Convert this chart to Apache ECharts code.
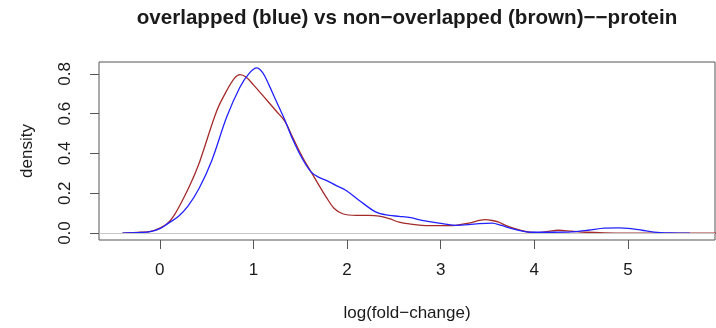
<!DOCTYPE html>
<html>
<head>
<meta charset="utf-8">
<script src="https://cdn.jsdelivr.net/npm/echarts@6/dist/echarts.min.js"></script>
<style>
html,body{margin:0;padding:0;background:#fff;}
#chart{width:716px;height:328px;}
</style>
</head>
<body>
<div id="chart"></div>
<script>
// ---- data ----
const titleText = "overlapped (blue) vs non\u2212overlapped (brown)\u2212\u2212protein";
const xLabelText = "log(fold\u2212change)";
const yLabelText = "density";
const xTicks = [0, 1, 2, 3, 4, 5];
const yTicks = [0, 0.2, 0.4, 0.6, 0.8];

const blueX = [-0.40, -0.2, -0.1, 0.0, 0.077, 0.2, 0.3, 0.42, 0.555, 0.714, 0.855, 0.95, 1.033, 1.1, 1.17, 1.227, 1.334, 1.42, 1.52, 1.617, 1.70, 1.777, 1.88, 1.99, 2.13, 2.31, 2.45, 2.556, 2.68, 2.80, 2.98, 3.158, 3.3, 3.406, 3.547, 3.65, 3.76, 3.97, 4.2, 4.40, 4.575, 4.75, 4.9, 5.035, 5.15, 5.28, 5.45, 5.66];
const blueY = [0, 0.003, 0.007, 0.022, 0.045, 0.085, 0.135, 0.225, 0.365, 0.583, 0.733, 0.80, 0.83, 0.805, 0.74, 0.68, 0.57, 0.47, 0.375, 0.306, 0.28, 0.265, 0.24, 0.214, 0.164, 0.105, 0.089, 0.084, 0.077, 0.064, 0.05, 0.039, 0.042, 0.047, 0.050, 0.038, 0.022, 0.004, 0.004, 0.006, 0.014, 0.025, 0.026, 0.022, 0.014, 0.005, 0.001, 0];

const brownX = [-0.40, -0.2, -0.1, 0.0, 0.077, 0.147, 0.253, 0.34, 0.43, 0.608, 0.714, 0.80, 0.855, 0.92, 1.0, 1.139, 1.24, 1.334, 1.42, 1.52, 1.617, 1.70, 1.777, 1.86, 1.953, 2.096, 2.237, 2.343, 2.45, 2.556, 2.68, 2.80, 3.0, 3.158, 3.3, 3.475, 3.55, 3.619, 3.72, 3.83, 3.95, 4.04, 4.15, 4.256, 4.40, 4.55, 4.75, 5.0, 5.5, 6.0];
const brownY = [0, 0.004, 0.008, 0.025, 0.047, 0.085, 0.175, 0.26, 0.365, 0.615, 0.716, 0.78, 0.797, 0.785, 0.745, 0.67, 0.615, 0.563, 0.48, 0.385, 0.306, 0.24, 0.181, 0.125, 0.097, 0.089, 0.089, 0.085, 0.072, 0.055, 0.045, 0.039, 0.037, 0.039, 0.05, 0.067, 0.063, 0.055, 0.033, 0.017, 0.004, 0.002, 0.008, 0.014, 0.009, 0.004, 0.001, 0, 0, 0];

const FONT = '"Liberation Sans", Arial, Helvetica, sans-serif';
const TXT = '#1a1a1a';
const AX = '#555555';

const chart = echarts.init(document.getElementById('chart'), null, {renderer: 'canvas'});
const pairs = (xs, ys) => xs.map((x, i) => [x, ys[i]]);

chart.setOption({
  animation: false,
  backgroundColor: '#ffffff',
  grid: {
    left: 99, right: 1, top: 62, bottom: 88,
    show: true, borderColor: AX, borderWidth: 1,
    containLabel: false, outerBoundsMode: 'none'
  },
  xAxis: {
    type: 'value', min: -0.65, max: 5.93,
    axisLine: {show: false, onZero: false},
    splitLine: {show: false},
    axisTick: {show: true, customValues: xTicks, length: 9, lineStyle: {color: AX, width: 1}},
    axisLabel: {customValues: xTicks, margin: 22, fontSize: 17, fontFamily: FONT, color: TXT,
      formatter: v => String(v)}
  },
  yAxis: {
    type: 'value', min: -0.035, max: 0.86,
    axisLine: {show: false, onZero: false},
    splitLine: {show: false},
    axisTick: {show: true, customValues: yTicks, length: 9, lineStyle: {color: AX, width: 1}},
    axisLabel: {customValues: yTicks, margin: 25, rotate: 90, fontSize: 17, fontFamily: FONT, color: TXT,
      formatter: v => Number(v).toFixed(1)}
  },
  series: [
    {
      name: 'non-overlapped', type: 'line', data: pairs(brownX, brownY),
      showSymbol: false, symbol: 'none', smooth: 0.35,
      lineStyle: {color: '#A52A2A', width: 1.3},
      markLine: {
        silent: true, symbol: ['none', 'none'], label: {show: false},
        lineStyle: {color: '#c8c8c8', type: 'solid', width: 1},
        data: [{yAxis: 0}]
      }
    },
    {
      name: 'overlapped', type: 'line', data: pairs(blueX, blueY),
      showSymbol: false, symbol: 'none', smooth: 0.35,
      lineStyle: {color: '#2222ff', width: 1.3}
    }
  ],
  graphic: [
    {type: 'text', x: 407, y: 18, style: {text: titleText, font: 'bold 20.6px ' + FONT, fill: TXT, align: 'center', verticalAlign: 'middle'}},
    {type: 'text', x: 407, y: 313, style: {text: xLabelText, font: '17px ' + FONT, fill: TXT, align: 'center', verticalAlign: 'middle'}},
    {type: 'text', x: 27, y: 151, rotation: Math.PI / 2, style: {text: yLabelText, font: '17px ' + FONT, fill: TXT, align: 'center', verticalAlign: 'middle'}}
  ]
});
</script>
</body>
</html>
